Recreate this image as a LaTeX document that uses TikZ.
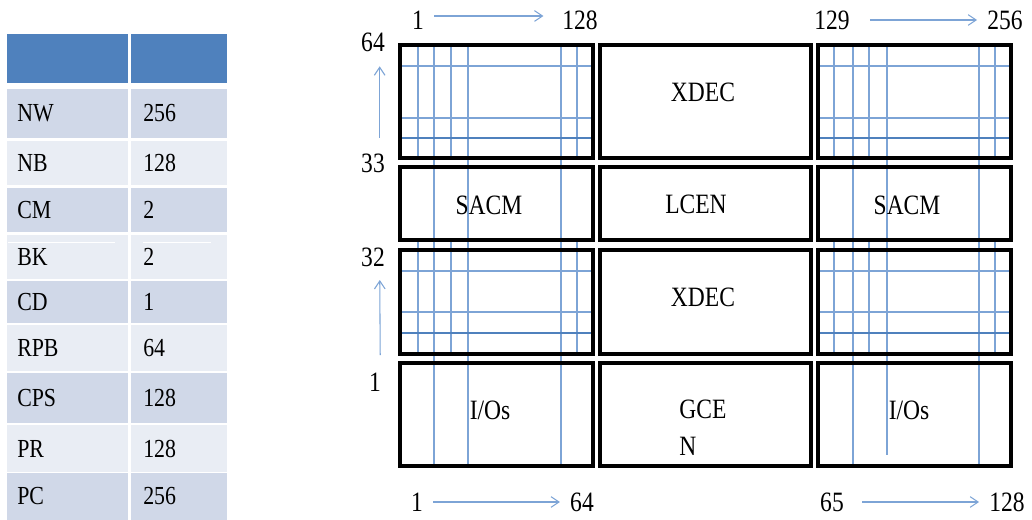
\documentclass[tikz,border=0pt]{standalone}
\usepackage{fontspec}
\setmainfont{Liberation Serif}[FakeStretch=0.84]
\usetikzlibrary{arrows.meta}
\definecolor{hdrblue}{RGB}{79,129,189}
\definecolor{rowdark}{RGB}{208,216,232}
\definecolor{rowlight}{RGB}{233,237,244}
\definecolor{gridblue}{RGB}{125,164,214}
\tikzset{
  blk/.style={draw=black, line width=2.7pt},
  gridln/.style={draw=gridblue, line width=0.8pt},
  gridbold/.style={draw=hdrblue, line width=1pt},
  lbl/.style={inner sep=0pt, font=\fontsize{21}{28}\selectfont},
  num/.style={inner sep=0pt, font=\fontsize{21}{24}\selectfont},
  tbl/.style={inner sep=0pt, anchor=west, font=\fontsize{19.5}{22}\selectfont},
  arr/.style={draw=gridblue, line width=0.8pt, -{Straight Barb[length=6pt,width=8pt]},
    shorten <=7.5pt, shorten >=7.5pt}
}
\begin{document}
\begin{tikzpicture}[x=0.75pt, y=-0.75pt]
\useasboundingbox (0,0) rectangle (1032,520);
% parameter table
\fill[hdrblue] (7,34) rectangle (128,83);
\fill[hdrblue] (131,34) rectangle (227,83);
\foreach \nm/\val/\ya/\yb/\col in {NW/256/89/138/rowdark, NB/128/141/185/rowlight,
    CM/2/188/232/rowdark, BK/2/235/279/rowlight, CD/1/281/323/rowdark,
    RPB/64/325/371/rowlight, CPS/128/373/423/rowdark, PR/128/425/472/rowlight,
    PC/256/473/520/rowdark} {
  \fill[\col] (7,\ya) rectangle (128,\yb);
  \fill[\col] (131,\ya) rectangle (227,\yb);
  \node[tbl] (k\nm) at (17,{(\ya+\yb)/2}) {\nm};
  \node[tbl] (v\nm) at (143,{(\ya+\yb)/2}) {\val};
}
\draw[white, line width=0.6pt] (8,242) -- (115,242) (143,242) -- (211,242);
% bit lines and word lines
\foreach \x in {434,468,561,853,979} \draw[gridln] (\x,45) -- (\x,466);
\draw[gridln] (887,45) -- (887,455);
\foreach \x in {418,451,577,834,869,995} {
  \draw[gridln] (\x,45) -- (\x,158);
  \draw[gridln] (\x,240) -- (\x,354);
}
\foreach \y in {66,118,271,312} {
  \draw[gridln] (400,\y) -- (593,\y);
  \draw[gridln] (818,\y) -- (1011,\y);
}
\foreach \y in {138,333} {
  \draw[gridbold] (400,\y) -- (593,\y);
  \draw[gridbold] (818,\y) -- (1011,\y);
}
% floorplan blocks
\foreach \xa/\xb in {400/593,600/811,818/1011}
  \foreach \ya/\yb in {45/158,167/240,250/354,363/466}
    \draw[blk] (\xa,\ya) rectangle (\xb,\yb);
\node[lbl] (xdecT) at (703,92) {XDEC};
\node[lbl] (sacmL) at (489,205) {SACM};
\node[lbl] (lcen) at (696,204) {LCEN};
\node[lbl] (sacmR) at (907,205) {SACM};
\node[lbl] (xdecB) at (703,297) {XDEC};
\node[lbl] (iosL) at (490,410) {I/Os};
\node[lbl, align=left] (gcen) at (703,428) {GCE\\N};
\node[lbl] (iosR) at (909,410) {I/Os};
% address ranges
\node[num] (a1) at (418,20) {1};
\node[num] (a128) at (580,20) {128};
\node[num] (a129) at (832,20) {129};
\node[num] (a256) at (1005,20) {256};
\node[num] (l64) at (373,42) {64};
\node[num] (l33) at (373,163) {33};
\node[num] (l32) at (373,257) {32};
\node[num] (l1) at (375,382) {1};
\node[num] (b1) at (417,502) {1};
\node[num] (b64) at (582,502) {64};
\node[num] (b65) at (832,502) {65};
\node[num] (b128) at (1007,502) {128};
\draw[arr, shorten >=14pt] ([yshift=3pt]a1.east) -- ([yshift=3pt]a128.west);
\draw[arr, shorten <=15pt] (a129.east) -- (a256.west);
\draw[arr] (b1.east) -- (b64.west);
\draw[arr, shorten <=13.5pt] (b65.east) -- (b128.west);
\draw[arr, shorten <=11.5pt, shorten >=11pt] ([xshift=5pt]l33.north) -- ([xshift=5pt]l64.south);
\draw[arr, shorten <=13pt, shorten >=10pt] ([xshift=4pt]l1.north) -- ([xshift=5pt]l32.south);
\end{tikzpicture}
\end{document}
